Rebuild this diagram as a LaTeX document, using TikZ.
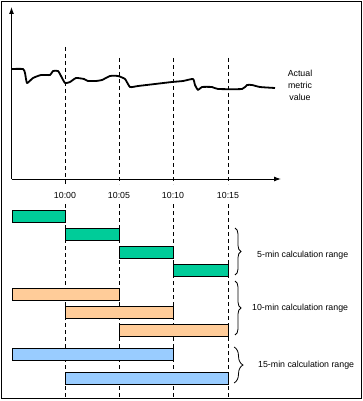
\documentclass[tikz,border=0pt]{standalone}
\usepackage{fontspec}
\setmainfont{Liberation Sans}
\usetikzlibrary{arrows.meta,decorations.pathreplacing}
\begin{document}
\begin{tikzpicture}[x=1pt,y=-1pt,
  lbl/.style={font=\fontsize{8.8}{10}\selectfont, inner sep=0pt},
  barbox/.style={draw=black, line width=0.9pt, anchor=north west, inner sep=0pt, minimum height=12pt},
  g/.style={barbox, fill=green5},
  o/.style={barbox, fill=orange10},
  b/.style={barbox, fill=blue15},
  tick/.style={dash pattern=on 4pt off 3pt, line width=0.8pt},
  br/.style={decorate, decoration={brace, amplitude=6pt, aspect=0.5}, line width=0.8pt}
]
\definecolor{green5}{HTML}{00CC99}
\definecolor{orange10}{HTML}{FFCC99}
\definecolor{blue15}{HTML}{99CCFF}
\useasboundingbox (0,0) rectangle (363,401);
\draw[line width=0.9pt] (1.5,1.5) rectangle (361,398);
% axes
\coordinate (o) at (11.5,179);
\coordinate (ytop) at (11.5,7);
\coordinate (xend) at (281,179);
\draw[line width=1pt, -{Latex[length=7pt,width=5pt]}] (o) -- (ytop);
\draw[line width=1pt, -{Latex[length=7pt,width=5pt]}] (o) -- (xend);
% time labels
\node[lbl] (t0) at (65,195) {10:00};
\node[lbl] (t5) at (119,195) {10:05};
\node[lbl] (t10) at (173,195) {10:10};
\node[lbl] (t15) at (228,195) {10:15};
% dashed lines
\draw[tick] (65,47) -- (65,184);
\draw[tick] (119,58) -- (119,184);
\draw[tick] (173,58) -- (173,184);
\draw[tick] (228,58) -- (228,184);
\draw[tick] (65,204) -- (65,397);
\draw[tick] (119,204) -- (119,397);
\draw[tick] (173,204) -- (173,397);
\draw[tick] (228,204) -- (228,397);
% curve
\draw[line width=1.8pt, line join=round] plot[smooth, tension=0.3] coordinates {
(11.5,69) (23,69) (25,73) (27,83) (33,78) (41,75) (50,75) (53,71) (58,71) (61,76) (65,83) (70,82) (76,78) (84,79) (88,81) (96,81)
(102,80) (110,76) (118,76) (125,79) (130,87) (138,86) (155,84) (172,82) (183,81)
(193,79) (195,85) (198,90) (202,87) (212,87) (218,89) (242,89) (247,85) (252,85) (260,87) (275,88)};
\node[lbl, align=center, font=\fontsize{8.8}{12}\selectfont] (actual) at (300,85) {Actual\\metric\\value};
% bars
\node[g, minimum width=53.5pt] (g1) at (11.5,209.5) {};
\node[g, minimum width=54pt] (g2) at (65,227.5) {};
\node[g, minimum width=54pt] (g3) at (119,245.5) {};
\node[g, minimum width=55pt] (g4) at (173,263.5) {};
\node[o, minimum width=107.5pt] (o1) at (11.5,287.5) {};
\node[o, minimum width=108pt] (o2) at (65,305.5) {};
\node[o, minimum width=109pt] (o3) at (119,323.5) {};
\node[b, minimum width=161.5pt] (b1) at (11.5,347.5) {};
\node[b, minimum width=163pt] (b2) at (65,371.5) {};
% braces
\coordinate (br5a) at (235,228);
\coordinate (br5b) at (235,275);
\coordinate (br10a) at (235,281);
\coordinate (br10b) at (235,335);
\coordinate (br15a) at (234,347);
\coordinate (br15b) at (234,383);
\draw[br] (br5a) -- (br5b);
\draw[br] (br10a) -- (br10b);
\draw[br, decoration={brace, amplitude=9pt}] (br15a) -- (br15b);
\node[lbl, anchor=west] (l5) at (257,255) {5-min calculation range};
\node[lbl, anchor=west] (l10) at (252,308) {10-min calculation range};
\node[lbl, anchor=west] (l15) at (258,365) {15-min calculation range};
\end{tikzpicture}
\end{document}
